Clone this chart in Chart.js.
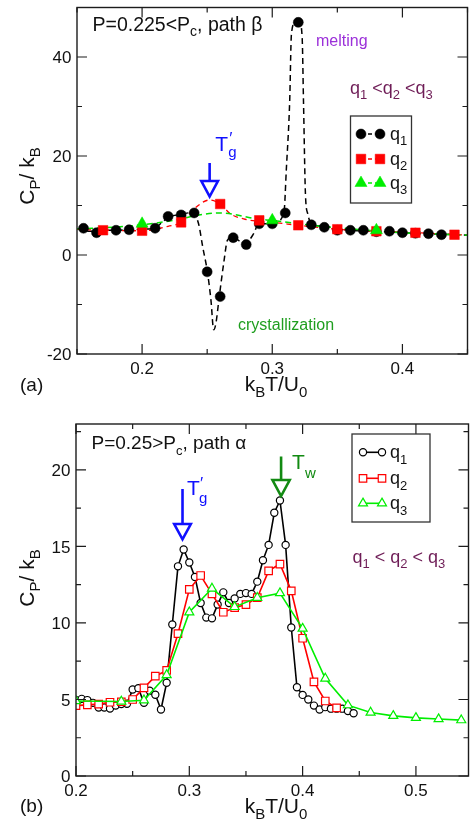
<!DOCTYPE html>
<html><head><meta charset="utf-8">
<script src="https://cdn.jsdelivr.net/npm/chart.js@4"></script>
<style>
html,body{margin:0;padding:0;background:#fff;overflow:hidden;}
#wrap{position:relative;width:475px;height:827px;background:#fff;}
canvas{position:absolute;left:0;}
</style></head><body>
<div id="wrap">
<canvas id="ca" width="475" height="410" style="top:0px"></canvas>
<canvas id="cb" width="475" height="417" style="top:410px"></canvas>
</div>
<script>
// ---------- Panel (a): P=0.225, path beta ----------
const aXRange = [0.15, 0.45];
const aYRange = [-20, 50];
const aXTicks = [0.2, 0.3, 0.4];
const aXMinor = [0.15, 0.25, 0.35, 0.45];
const aYTicks = [-20, 0, 20, 40];
const aYMinor = [-10, 10, 30];

const aQ1T  = [0.155,0.165,0.18,0.19,0.21,0.22,0.23,0.24,0.25,0.26,0.27,0.28,0.29,0.30,0.31,0.32,0.33,0.34,0.35,0.36,0.37,0.38,0.39,0.40,0.41,0.42,0.43];
const aQ1Cp = [5.4,4.5,5.0,5.1,5.4,7.8,8.1,8.5,-3.4,-8.4,3.5,2.1,6.3,6.3,8.5,47.0,6.1,5.6,5.0,5.0,5.0,4.7,4.8,4.5,4.4,4.3,4.1];
const aQ2T  = [0.17,0.20,0.23,0.26,0.29,0.32,0.35,0.38,0.41,0.44];
const aQ2Cp = [5.0,4.9,6.6,10.3,7.0,6.0,5.2,4.8,4.5,4.1];
const aQ3T  = [0.20,0.30,0.38];
const aQ3Cp = [6.3,7.0,5.0];

// dashed guide curves
const aQ1FitT  = [0.15,0.16,0.17,0.18,0.19,0.20,0.21,0.215,0.22,0.23,0.239,0.2434,0.2466,0.25,0.2529,0.255,0.2567,0.2593,0.263,0.2655,0.2693,0.275,0.279,0.2857,0.2895,0.30,0.3089,0.3109,0.3134,0.3147,0.3172,0.321,0.323,0.324,0.3255,0.3273,0.33,0.34,0.36,0.38,0.40,0.42,0.45];
const aQ1FitCp = [5.3,4.8,5.0,5.0,5.1,5.2,5.5,6.5,7.6,8.2,8.6,6.3,1.6,-3.1,-9.1,-15.1,-13.8,-8.4,-1.1,2.95,3.6,2.8,2.3,4.3,6.3,6.3,8.4,17.7,31.1,44.5,46.8,47.0,43.8,31.1,12.3,8.3,6.3,5.8,5.0,4.8,4.5,4.3,4.0];
const aQ2FitT  = [0.15,0.17,0.20,0.22,0.23,0.239,0.2517,0.26,0.268,0.278,0.29,0.30,0.32,0.35,0.38,0.41,0.45];
const aQ2FitCp = [5.2,5.0,4.9,5.8,6.6,9.1,11.1,10.3,8.3,7.3,6.8,6.6,6.0,5.2,4.8,4.5,4.0];
const aQ3FitT  = [0.15,0.17,0.20,0.23,0.24,0.26,0.29,0.30,0.33,0.36,0.40,0.45];
const aQ3FitCp = [5.3,5.5,6.1,7.3,7.9,8.5,7.2,7.0,6.0,5.3,4.5,4.0];

// ---------- Panel (b): P=0.25, path alpha ----------
const bXRange = [0.2, 0.5464];
const bYRange = [0, 23];
const bXTicks = [0.2, 0.3, 0.4, 0.5];
const bXMinor = [0.25, 0.35, 0.45];
const bYTicks = [0, 5, 10, 15, 20];
const bYMinor = [2.5, 7.5, 12.5, 17.5, 22.5];

const bQ1T  = [0.200,0.205,0.210,0.215,0.220,0.225,0.230,0.235,0.240,0.245,0.250,0.255,0.260,0.265,0.270,0.275,0.280,0.285,0.290,0.295,0.300,0.305,0.310,0.315,0.320,0.325,0.330,0.335,0.340,0.345,0.350,0.355,0.360,0.365,0.370,0.375,0.380,0.385,0.390,0.395,0.400,0.405,0.410,0.415,0.420,0.425,0.430,0.435,0.440,0.445];
const bQ1Cp = [4.96,5.04,4.96,4.78,4.48,4.48,4.41,4.61,4.70,4.72,5.65,5.74,4.78,5.57,5.31,4.35,6.09,9.9,13.7,14.8,13.95,13.0,11.3,10.35,10.3,11.2,12.0,11.3,11.6,11.9,11.95,11.9,12.7,14.1,15.1,17.2,18.0,15.1,9.7,5.8,5.3,5.0,4.6,4.35,4.5,4.4,4.4,4.4,4.25,4.1];
const bQ2T  = [0.20,0.21,0.22,0.23,0.24,0.25,0.26,0.27,0.28,0.29,0.30,0.31,0.32,0.33,0.34,0.35,0.36,0.37,0.38,0.39,0.40,0.41,0.42,0.43];
const bQ2Cp = [4.6,4.65,4.7,4.82,4.85,5.0,5.76,6.52,6.9,9.3,12.2,13.1,11.9,10.7,11.0,11.2,11.65,13.4,13.85,12.1,9.0,6.15,4.9,4.45];
const bQ3T  = [0.20,0.24,0.26,0.28,0.30,0.32,0.34,0.36,0.38,0.40,0.42,0.44,0.46,0.48,0.50,0.52,0.54];
const bQ3Cp = [4.9,4.87,4.95,6.6,10.7,12.25,11.05,11.65,11.95,9.63,6.37,4.63,4.15,3.93,3.80,3.72,3.65];

const seriesNames = ['1', '2', '3'];

// ---------- helpers ----------
const FONT = '"Liberation Sans", Arial, Helvetica, sans-serif';
function zip(xs, ys) { return xs.map((x, i) => ({ x: x, y: ys[i] })); }
function setFont(ctx, size) { ctx.font = size + 'px ' + FONT; }
function rich(ctx, parts, x, y, size, color, align) {
  ctx.save();
  ctx.fillStyle = color; ctx.textBaseline = 'alphabetic'; ctx.textAlign = 'left';
  const ss = Math.round(size * 0.7);
  let w = 0;
  parts.forEach(p => { setFont(ctx, p[1] ? ss : size); w += ctx.measureText(p[0]).width; });
  let cx = align === 'center' ? x - w / 2 : (align === 'right' ? x - w : x);
  parts.forEach(p => {
    setFont(ctx, p[1] ? ss : size);
    const dy = p[1] === 1 ? size * 0.3 : (p[1] === 2 ? -size * 0.42 : 0);
    ctx.fillText(p[0], cx, y + dy);
    cx += ctx.measureText(p[0]).width;
  });
  ctx.restore();
}
function fmt1(v) { return v.toFixed(1); }
function fmt0(v) { return String(v); }

function frameAndTicks(chart, xt, xm, yt, ym, fx, fy) {
  const ctx = chart.ctx, a = chart.chartArea, xs = chart.scales.x, ys = chart.scales.y;
  ctx.save();
  ctx.strokeStyle = '#1c1c1c';
  ctx.lineWidth = 1.4;
  ctx.strokeRect(a.left, a.top, a.right - a.left, a.bottom - a.top);
  ctx.lineWidth = 1.2;
  ctx.beginPath();
  const xt2 = (vals, len) => vals.forEach(v => {
    const p = xs.getPixelForValue(v);
    ctx.moveTo(p, a.bottom); ctx.lineTo(p, a.bottom - len);
    ctx.moveTo(p, a.top); ctx.lineTo(p, a.top + len);
  });
  const yt2 = (vals, len) => vals.forEach(v => {
    const p = ys.getPixelForValue(v);
    ctx.moveTo(a.left, p); ctx.lineTo(a.left + len, p);
    ctx.moveTo(a.right, p); ctx.lineTo(a.right - len, p);
  });
  xt2(xt, 10); xt2(xm, 5); yt2(yt, 10); yt2(ym, 5);
  ctx.stroke();
  ctx.fillStyle = '#111';
  setFont(ctx, 17);
  ctx.textBaseline = 'alphabetic';
  ctx.textAlign = 'center';
  xt.forEach(v => ctx.fillText(fx(v), xs.getPixelForValue(v), a.bottom + 19.8));
  ctx.textAlign = 'right';
  yt.forEach(v => ctx.fillText(fy(v), a.left - 5.5, ys.getPixelForValue(v) + 6.1));
  ctx.restore();
}

function arrow(ctx, x, y0, y1, half, apex, color) {
  ctx.save();
  ctx.strokeStyle = color; ctx.lineWidth = 2.6; ctx.lineJoin = 'miter';
  ctx.beginPath(); ctx.moveTo(x, y0); ctx.lineTo(x, y1); ctx.stroke();
  ctx.beginPath();
  ctx.moveTo(x - half, y1); ctx.lineTo(x + half, y1); ctx.lineTo(x, apex); ctx.closePath();
  ctx.stroke();
  ctx.restore();
}

function legendBox(ctx, chart, box, rows, mx1, mx2, tx, dashed, idx) {
  ctx.save();
  ctx.fillStyle = '#fff';
  ctx.fillRect(box[0], box[1], box[2], box[3]);
  ctx.strokeStyle = '#333'; ctx.lineWidth = 1.3;
  ctx.strokeRect(box[0], box[1], box[2], box[3]);
  rows.forEach((ry, i) => {
    const ds = chart.data.datasets[idx[i]];
    ctx.strokeStyle = ds.borderColor; ctx.lineWidth = dashed ? 1.4 : 1.6;
    ctx.setLineDash(dashed ? [4, 3] : []);
    ctx.beginPath(); ctx.moveTo(mx1, ry); ctx.lineTo(mx2, ry); ctx.stroke();
    ctx.setLineDash([]);
    ctx.fillStyle = ds.pointBackgroundColor; ctx.strokeStyle = ds.borderColor;
    ctx.lineWidth = ds.pointBorderWidth;
    const o = { pointStyle: ds.pointStyle, radius: ds.pointRadius, rotation: 0, borderWidth: ds.pointBorderWidth };
    Chart.helpers.drawPoint(ctx, o, mx1, ry);
    Chart.helpers.drawPoint(ctx, o, mx2, ry);
    rich(ctx, [['q', 0], [seriesNames[i], 1]], tx, ry + 6, 18, '#111', 'left');
  });
  ctx.restore();
}

function yTitle(ctx, x, y) {
  ctx.save();
  ctx.translate(x, y); ctx.rotate(-Math.PI / 2);
  rich(ctx, [['C', 0], ['P', 1], ['/ k', 0], ['B', 1]], 0, 0, 21, '#111', 'center');
  ctx.restore();
}
function xTitle(ctx, x, y) {
  rich(ctx, [['k', 0], ['B', 1], ['T/U', 0], ['0', 1]], x, y, 21, '#111', 'center');
}

// ---------- Panel (a) chart ----------
const decorA = {
  id: 'decorA',
  afterDraw(chart) {
    const ctx = chart.ctx, xs = chart.scales.x;
    frameAndTicks(chart, aXTicks, aXMinor, aYTicks, aYMinor, fmt1, fmt0);
    yTitle(ctx, 34, 176);
    xTitle(ctx, 276, 390.5);
    rich(ctx, [['(a)', 0]], 20, 391, 19, '#111', 'left');
    rich(ctx, [['P=0.225<P', 0], ['c', 1], [', path \u03B2', 0]], 92.5, 30.5, 19.5, '#111', 'left');
    rich(ctx, [['melting', 0]], 316, 45.5, 16, '#9b30d9', 'left');
    rich(ctx, [['q', 0], ['1', 1], [' <q', 0], ['2', 1], [' <q', 0], ['3', 1]], 350, 94, 18, '#6e1c56', 'left');
    rich(ctx, [['crystallization', 0]], 238, 330, 16, '#1f9e1f', 'left');
    // T_g' label and arrow
    const xg = xs.getPixelForValue(0.2519);
    rich(ctx, [['T', 0]], xg + 5.5, 150.5, 21, '#1010ff', 'left');
    rich(ctx, [['g', 0]], xg + 18.5, 156.5, 15, '#1010ff', 'left');
    rich(ctx, [['\u2032', 0]], xg + 19.5, 144, 17, '#1010ff', 'left');
    arrow(ctx, xg, 163, 181, 8.3, 196.5, '#1010ff');
    legendBox(ctx, chart, [350.5, 116, 61, 87], [134, 159, 183], 361, 380, 390, true, [3, 4, 5]);
  }
};

new Chart(document.getElementById('ca'), {
  type: 'scatter',
  data: {
    datasets: [
      { label: 'q1 fit', data: zip(aQ1FitT, aQ1FitCp), showLine: true, borderColor: '#000', borderWidth: 1.5, borderDash: [6, 4], pointRadius: 0, cubicInterpolationMode: 'monotone', order: 9 },
      { label: 'q2 fit', data: zip(aQ2FitT, aQ2FitCp), showLine: true, borderColor: '#ff0000', borderWidth: 1.3, borderDash: [5, 4], pointRadius: 0, cubicInterpolationMode: 'monotone', order: 8 },
      { label: 'q3 fit', data: zip(aQ3FitT, aQ3FitCp), showLine: true, borderColor: '#00e000', borderWidth: 1.5, borderDash: [6, 4], pointRadius: 0, cubicInterpolationMode: 'monotone', order: 7 },
      { label: 'q1', data: zip(aQ1T, aQ1Cp), showLine: false, pointStyle: 'circle', pointRadius: 5, pointBorderWidth: 0.5, borderColor: '#000', pointBackgroundColor: '#000', backgroundColor: '#000', order: 3 },
      { label: 'q2', data: zip(aQ2T, aQ2Cp), showLine: false, pointStyle: 'rect', pointRadius: 6.8, pointBorderWidth: 0.5, borderColor: '#ff0000', pointBackgroundColor: '#ff0000', backgroundColor: '#ff0000', order: 2 },
      { label: 'q3', data: zip(aQ3T, aQ3Cp), showLine: false, pointStyle: 'triangle', pointRadius: 7, pointBorderWidth: 0.5, borderColor: '#00ee00', pointBackgroundColor: '#00ee00', backgroundColor: '#00ee00', order: 1 }
    ]
  },
  options: {
    responsive: false, animation: false, events: [],
    layout: { padding: { left: 77, right: 1, top: 6, bottom: 56 } },
    plugins: { legend: { display: false }, tooltip: { enabled: false } },
    scales: {
      x: { type: 'linear', min: aXRange[0], max: aXRange[1], display: false },
      y: { type: 'linear', min: aYRange[0], max: aYRange[1], display: false }
    }
  },
  plugins: [decorA]
});

// ---------- Panel (b) chart ----------
const decorB = {
  id: 'decorB',
  afterDraw(chart) {
    const ctx = chart.ctx, xs = chart.scales.x;
    frameAndTicks(chart, bXTicks, bXMinor, bYTicks, bYMinor, fmt1, fmt0);
    yTitle(ctx, 34, 168);
    xTitle(ctx, 276, 402.5);
    rich(ctx, [['(b)', 0]], 20, 401.5, 19, '#111', 'left');
    rich(ctx, [['P=0.25>P', 0], ['c', 1], [', path \u03B1', 0]], 91.5, 39, 19, '#111', 'left');
    rich(ctx, [['q', 0], ['1', 1], [' < q', 0], ['2', 1], [' < q', 0], ['3', 1]], 352.5, 153, 18, '#6e1c56', 'left');
    // T_g'
    const xg = xs.getPixelForValue(0.294);
    rich(ctx, [['T', 0]], xg + 4.5, 85, 21, '#1010ff', 'left');
    rich(ctx, [['g', 0]], xg + 16.5, 92.5, 15, '#1010ff', 'left');
    rich(ctx, [['\u2032', 0]], xg + 17.5, 79, 17, '#1010ff', 'left');
    arrow(ctx, xg, 79, 114, 8.3, 129.3, '#1010ff');
    // T_w
    const xw = xs.getPixelForValue(0.381);
    rich(ctx, [['T', 0]], xw + 11, 59.3, 21, '#128a12', 'left');
    rich(ctx, [['w', 0]], xw + 24, 67.5, 15, '#128a12', 'left');
    arrow(ctx, xw, 46.5, 70, 8.6, 86, '#128a12');
    legendBox(ctx, chart, [352, 24, 78, 88], [42.3, 68.3, 93.3], 363, 382, 390, false, [0, 1, 2]);
  }
};

new Chart(document.getElementById('cb'), {
  type: 'scatter',
  data: {
    datasets: [
      { label: 'q1', data: zip(bQ1T, bQ1Cp), showLine: true, borderColor: '#000', borderWidth: 1.6, pointStyle: 'circle', pointRadius: 3.6, pointBorderWidth: 1.2, pointBackgroundColor: '#fff', backgroundColor: '#fff', order: 3 },
      { label: 'q2', data: zip(bQ2T, bQ2Cp), showLine: true, borderColor: '#ff0000', borderWidth: 1.6, pointStyle: 'rect', pointRadius: 5.3, pointBorderWidth: 1.2, pointBackgroundColor: '#fff', backgroundColor: '#fff', order: 2 },
      { label: 'q3', data: zip(bQ3T, bQ3Cp), showLine: true, borderColor: '#00ee00', borderWidth: 1.6, pointStyle: 'triangle', pointRadius: 5.2, pointBorderWidth: 1.2, pointBackgroundColor: '#fff', backgroundColor: '#fff', order: 1 }
    ]
  },
  options: {
    responsive: false, animation: false, events: [],
    layout: { padding: { left: 76, right: 1, top: 14, bottom: 51 } },
    plugins: { legend: { display: false }, tooltip: { enabled: false } },
    scales: {
      x: { type: 'linear', min: bXRange[0], max: bXRange[1], display: false },
      y: { type: 'linear', min: bYRange[0], max: bYRange[1], display: false }
    }
  },
  plugins: [decorB]
});
</script>
</body></html>
